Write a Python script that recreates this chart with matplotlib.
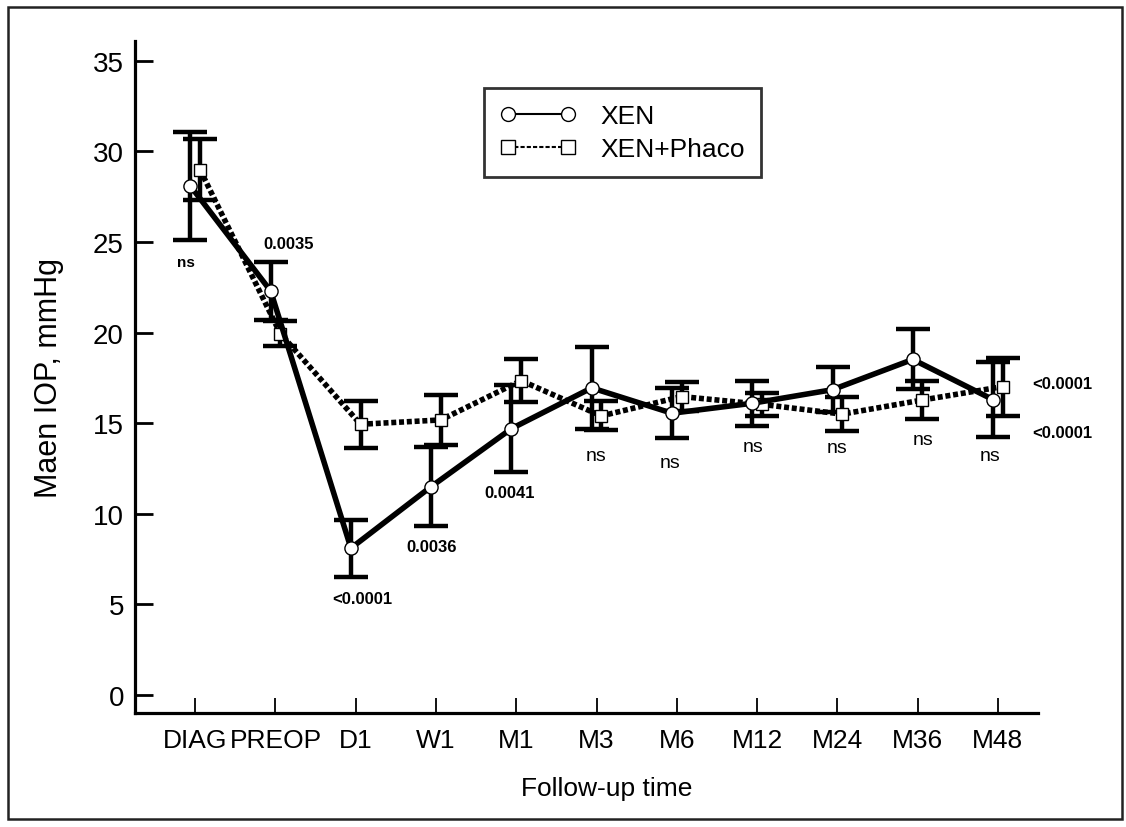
import matplotlib
matplotlib.use("Agg")
import matplotlib.pyplot as plt
from matplotlib.lines import Line2D
from matplotlib.patches import Rectangle
import numpy as np

plt.rcParams['font.family'] = ['Liberation Sans', 'DejaVu Sans']

categories = ["DIAG", "PREOP", "D1", "W1", "M1", "M3", "M6", "M12", "M24", "M36", "M48"]
xen_mean = [28.1, 22.3, 8.1, 11.5, 14.7, 16.95, 15.55, 16.1, 16.85, 18.52, 16.3]
xen_err = [3.0, 1.6, 1.58, 2.2, 2.42, 2.26, 1.38, 1.25, 1.24, 1.66, 2.08]
phaco_mean = [29.0, 19.95, 14.94, 15.18, 17.35, 15.4, 16.47, 16.04, 15.5, 16.28, 17.02]
phaco_err = [1.7, 0.7, 1.3, 1.4, 1.2, 0.8, 0.8, 0.65, 0.92, 1.05, 1.6]

# p-value annotations: (text, x index, y value, bold, size)
annotations = [
    ("ns", -0.11, 23.9, True, 11),
    ("0.0035", 1.16, 24.9, True, 12),
    ("<0.0001", 2.08, 5.3, True, 12),
    ("0.0036", 2.95, 8.2, True, 12),
    ("0.0041", 3.92, 11.2, True, 12),
    ("ns", 5.0, 13.2, False, 14),
    ("ns", 5.92, 12.85, False, 14),
    ("ns", 6.95, 13.7, False, 14),
    ("ns", 8.0, 13.65, False, 14),
    ("ns", 9.07, 14.1, False, 14),
    ("ns", 9.9, 13.2, False, 14),
    ("<0.0001", 10.8, 17.2, True, 12),
    ("<0.0001", 10.8, 14.5, True, 12),
]

fig = plt.figure(figsize=(11.26, 8.28), dpi=100)
ax = fig.add_axes([135/1126, 1-714/828, (1038-135)/1126, (714-42)/828])

x = np.arange(len(categories))
off = 0.06

ax.errorbar(x - off, xen_mean, yerr=xen_err, fmt='none', ecolor='black',
            elinewidth=3.2, capsize=12, capthick=3.2, zorder=2)
ax.errorbar(x + off, phaco_mean, yerr=phaco_err, fmt='none', ecolor='black',
            elinewidth=3.2, capsize=12, capthick=3.2, zorder=2)
ax.plot(x + off, phaco_mean, color='black', lw=4.0, linestyle=(0, (0.9, 0.5)),
        marker='s', ms=8.5, mfc='white', mec='black', mew=1.0, zorder=3)
ax.plot(x - off, xen_mean, color='black', lw=4.0, linestyle='-',
        marker='o', ms=9.5, mfc='white', mec='black', mew=1.0, zorder=4)

for txt, tx, ty, bold, sz in annotations:
    ax.text(tx, ty, txt, ha='center', va='center', fontsize=sz,
            fontweight='bold' if bold else 'normal', color='black')

ax.set_xlim(-0.75, 10.5)
ax.set_ylim(-1, 36.1)
ax.set_xticks(x)
ax.set_xticklabels(categories)
ax.set_yticks(np.arange(0, 36, 5))

for s in ['top', 'right']:
    ax.spines[s].set_visible(False)
for s in ['left', 'bottom']:
    ax.spines[s].set_linewidth(2.3)
    ax.spines[s].set_color('black')

ax.tick_params(axis='y', direction='in', length=13, width=2, labelsize=20, pad=8)
ax.tick_params(axis='x', direction='in', length=11, width=1.3, labelsize=19, pad=11)

ax.set_ylabel("Maen IOP, mmHg", fontsize=22)
ax.yaxis.set_label_coords(-0.079, 0.5)
ax.set_xlabel("Follow-up time", fontsize=19)
ax.xaxis.set_label_coords(0.5227, -0.094)

handles = [
    Line2D([], [], color='black', lw=1.5, marker='o', ms=10, mfc='white', mec='black', mew=1.0),
    Line2D([], [], color='black', lw=1.5, linestyle=(0, (2, 1)), marker='s', ms=10,
           mfc='white', mec='black', mew=1.0),
]
leg = fig.legend(handles, ["XEN", "XEN+Phaco"], loc='upper left',
                 bbox_to_anchor=(484/1126, 1-89/828), numpoints=2, fontsize=19,
                 frameon=True, fancybox=False, edgecolor='black', handlelength=2.87,
                 handletextpad=0.95, labelspacing=0.35, borderpad=0.6, borderaxespad=0)
leg.get_frame().set_linewidth(2.0)

fig.patches.append(Rectangle((8/1126, 1-820/828), (1122-8)/1126, (820-8)/828,
                             transform=fig.transFigure, fill=False,
                             edgecolor='#222222', linewidth=1.8))

fig.savefig("out.png", dpi=100)
